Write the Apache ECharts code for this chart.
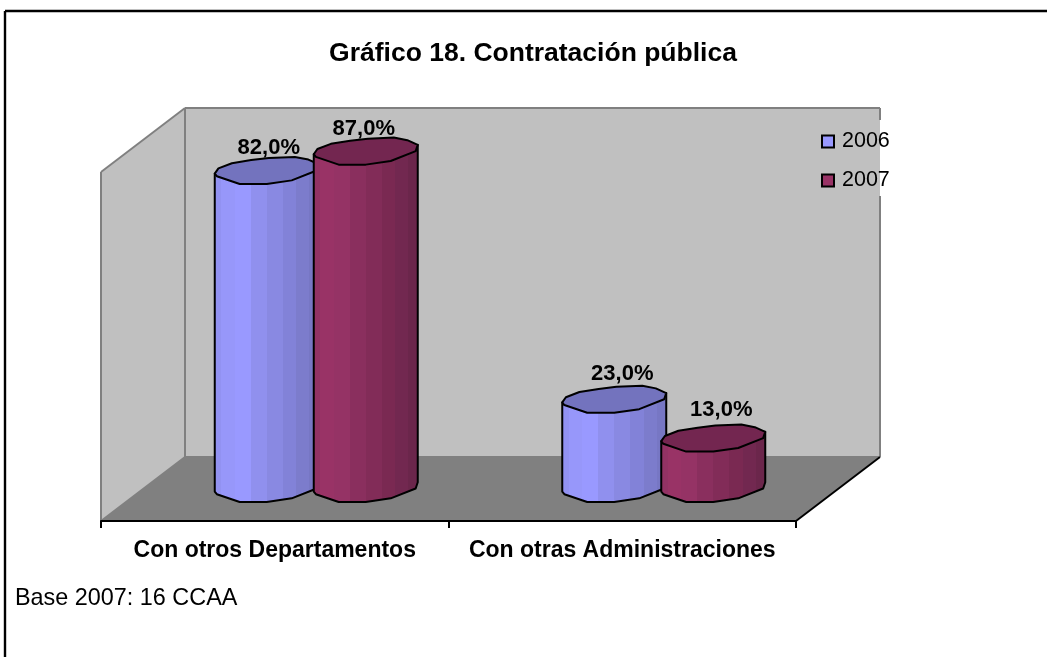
<!DOCTYPE html>
<html><head><meta charset="utf-8">
<style>html,body{margin:0;padding:0;background:#fff}#c{width:1047px;height:657px}</style>
<script src="https://cdn.jsdelivr.net/npm/echarts@6/dist/echarts.min.js"></script>
</head><body><div id="c"></div>
<script>
const categories = ['Con otros Departamentos', 'Con otras Administraciones'];
const years = ['2006', '2007'];
const values2006 = [82, 23];
const values2007 = [87, 13];
const axisMax = 90;
const chartTitle = 'Gráfico 18. Contratación pública';
const footnote = 'Base 2007: 16 CCAA';

const FONT = '"Liberation Sans", Arial, sans-serif';
const DEPTH = [84, -64];
const LEGEND_GAP = [120, 196];
const BAR_HALF = 52, BAR_SHIFT = 49.5;
// tilted polygon outline of the cylinder cap, as fractions of the half width
const capBack = [[-1,.05],[-.93,-.05],[-.67,-.15],[-.3,-.21],[.04,-.25],[.54,-.27],[.8,-.22],[1,-.13]];
const capFront = [[-1,.05],[-.96,.1],[-.52,.25],[0,.25],[.48,.18],[.96,-.01],[1,-.13]];
const stripStops = [0,.07,.2,.35,.5,.65,.78,.9,1];
const palette = {
  2006:{ top:'#7373BE', strips:['#9292F2','#9797FA','#9999FF','#9090EE','#8989E2','#8282D8','#7C7CCC','#7777C4'] },
  2007:{ top:'#732650', strips:['#923264','#993366','#953365','#8A2F5E','#822C58','#7A2952','#722850','#6B264B'] }
};
const labelNudge = { 2006:[[2,-23],[8,-26]], 2007:[[-2,-23],[8,-29]] };

function wallItem(params, api) {
  const g = params.coordSys, x0 = g.x, x1 = g.x + g.width, yB = g.y + g.height, yT = g.y;
  const [dx, dy] = DEPTH;
  const line = (a, b, c, d, col, w) => ({ type:'line', shape:{x1:a,y1:b,x2:c,y2:d}, style:{stroke:col,lineWidth:w} });
  const poly = (pts, fill) => ({ type:'polygon', shape:{points:pts}, style:{fill} });
  return { type:'group', children:[
    poly([[x0+dx,yT+dy],[x1+dx,yT+dy],[x1+dx,yB+dy],[x0+dx,yB+dy]], '#C0C0C0'),
    poly([[x0,yT],[x0+dx,yT+dy],[x0+dx,yB+dy],[x0,yB]], '#C0C0C0'),
    poly([[x0,yB],[x0+dx,yB+dy],[x1+dx,yB+dy],[x1,yB]], '#808080'),
    line(x0,yT,x0+dx,yT+dy,'#808080',2), line(x0+dx,yT+dy,x1+dx,yT+dy,'#808080',2),
    line(x0,yT,x0,yB,'#808080',2), line(x0+dx,yT+dy,x0+dx,yB+dy,'#808080',2),
    line(x0+dx,yB+dy,x1+dx,yB+dy,'#808080',2),
    line(x1+dx,yT+dy,x1+dx,LEGEND_GAP[0],'#808080',2), line(x1+dx,LEGEND_GAP[1],x1+dx,yB+dy,'#808080',2),
    line(x0,yB,x0+dx,yB+dy,'#808080',2), line(x1,yB,x1+dx,yB+dy,'#000',2)
  ]};
}

function barRenderer(year, side) {
  const pal = palette[year];
  return function (params, api) {
    const idx = api.value(0), val = api.value(1);
    const top = api.coord([idx, val]), base = api.coord([idx, 0]);
    const cx = top[0] + DEPTH[0]/2 - 0.5 + side*BAR_SHIFT;
    const topY = top[1] + DEPTH[1]/2, h = base[1] - top[1];
    const P = (p, sh) => [cx + p[0]*BAR_HALF, topY + p[1]*BAR_HALF + sh];
    const bodyPts = [P(capFront[0],0)].concat(capFront.map(p => P(p,h)), [P(capFront[capFront.length-1],0)]);
    const stops = [];
    pal.strips.forEach((c,i) => {
      stops.push({offset:stripStops[i],color:c},{offset:stripStops[i+1],color:c});
    });
    const capPts = capBack.concat(capFront.slice().reverse().slice(1,-1)).map(p => P(p,0));
    const nudge = labelNudge[year][idx];
    return { type:'group', children:[
      { type:'polygon', shape:{points:bodyPts},
        style:{ fill:new echarts.graphic.LinearGradient(0,0,1,0,stops), stroke:'#000', lineWidth:2, lineJoin:'round' } },
      { type:'polygon', shape:{points:capPts}, style:{ fill:pal.top, stroke:'#000', lineWidth:2, lineJoin:'round' } },
      { type:'text', z2:10, style:{ x:cx+nudge[0], y:topY+nudge[1], text:val.toFixed(1).replace('.',',')+'%',
        font:'bold 22px '+FONT, fill:'#000', align:'center', verticalAlign:'middle' } }
    ]};
  };
}
const toData = arr => arr.map((v,i) => [i,v]);
const chart = echarts.init(document.getElementById('c'), null, {renderer:'canvas'});
chart.setOption({
  animation:false, backgroundColor:'#fff',
  title:[
    { text:chartTitle, left:533, top:54, padding:0, textAlign:'center', textVerticalAlign:'middle',
      textStyle:{ fontFamily:FONT, fontWeight:'bold', fontSize:26.5, color:'#000' } },
    { text:footnote, left:15, top:599, padding:0, textVerticalAlign:'middle',
      textStyle:{ fontFamily:FONT, fontWeight:'normal', fontSize:23.4, color:'#000' } }
  ],
  legend:{ data:[
      {name:years[0], itemStyle:{color:'#9999FF',borderColor:'#000',borderWidth:2}},
      {name:years[1], itemStyle:{color:'#993366',borderColor:'#000',borderWidth:2}}],
    orient:'vertical', left:821, top:130.5, padding:0, itemWidth:12, itemHeight:12, itemGap:17, icon:'rect',
    textStyle:{ fontFamily:FONT, fontSize:21.5, color:'#000', padding:[0,0,0,3] } },
  grid:{ left:101, top:172, width:695, height:349 },
  xAxis:{ type:'category', data:categories, z:5,
    axisLine:{show:true,lineStyle:{color:'#000',width:2}},
    axisTick:{show:true,alignWithLabel:false,interval:0,length:7,lineStyle:{color:'#000',width:2}},
    axisLabel:{ interval:0, hideOverlap:false, fontFamily:FONT, fontWeight:'bold', fontSize:23, color:'#000', margin:18 }, splitLine:{show:false} },
  yAxis:{ type:'value', min:0, max:axisMax, interval:10, show:false, splitLine:{show:false} },
  series:[
    { type:'custom', name:'walls', silent:true, z:1, clip:false, renderItem:wallItem, data:[[0,0]], encode:{x:0,y:1} },
    { type:'custom', name:years[0], z:2, clip:false, renderItem:barRenderer(years[0],-1), data:toData(values2006), encode:{x:0,y:1}, itemStyle:{color:'#9999FF'} },
    { type:'custom', name:years[1], z:3, clip:false, renderItem:barRenderer(years[1],1), data:toData(values2007), encode:{x:0,y:1}, itemStyle:{color:'#993366'} }
  ],
  graphic:[
    { type:'line', z:20, shape:{x1:5,y1:11,x2:1047,y2:11}, style:{stroke:'#000',lineWidth:2.4} },
    { type:'line', z:20, shape:{x1:5,y1:11,x2:5,y2:657}, style:{stroke:'#000',lineWidth:2.4} }
  ]
});
</script></body></html>
